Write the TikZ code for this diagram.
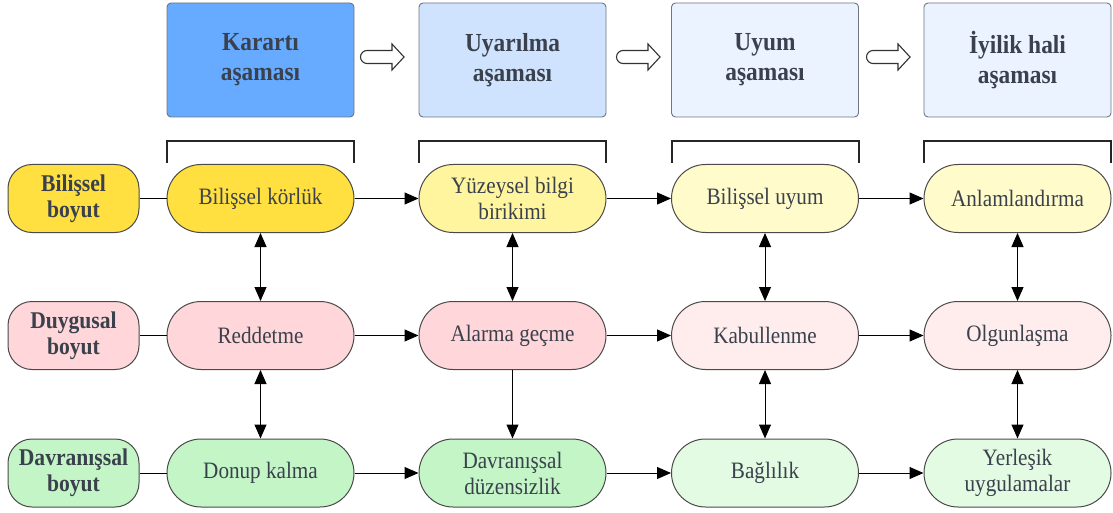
\documentclass[tikz,border=0pt]{standalone}
\usepackage{fontspec}
\setmainfont{Liberation Serif}[FakeStretch=0.9]
\usetikzlibrary{arrows.meta}

\definecolor{txt}{HTML}{3A414C}
\definecolor{edge}{HTML}{4A4A4A}
\definecolor{hedge}{HTML}{6E7580}
\definecolor{hA}{HTML}{66ABFF}
\definecolor{hB}{HTML}{CFE3FE}
\definecolor{hC}{HTML}{EAF3FF}
\definecolor{yA}{HTML}{FFE040}
\definecolor{yB}{HTML}{FFF59F}
\definecolor{yC}{HTML}{FFFBCA}
\definecolor{pA}{HTML}{FFD6D9}
\definecolor{pB}{HTML}{FFEDED}
\definecolor{gA}{HTML}{C3F5C7}
\definecolor{gB}{HTML}{E3FAE3}

\tikzset{
  header/.style={draw=hedge, line width=0.9pt, rounded corners=4pt,
    minimum width=187pt, minimum height=114pt, align=center, text=txt,
    font=\fontsize{26}{30}\selectfont\bfseries},
  stagebox/.style={draw=edge, line width=1pt, rounded corners=34pt,
    minimum width=187pt, minimum height=68pt, align=center, text=txt,
    inner sep=2pt, font=\fontsize{23.5}{26}\selectfont},
  dimbox/.style={draw=edge, line width=1pt, rounded corners=24pt,
    minimum width=131pt, minimum height=68pt, align=center, text=txt,
    inner sep=2pt, font=\fontsize{24}{26}\selectfont\bfseries},
  bracket/.style={draw=black!85, line width=1.8pt},
  hollow/.style={draw=black!80, line width=1.1pt, fill=white, line join=miter},
  link/.style={draw=black, line width=1pt},
  flow/.style={link, -{Triangle[length=14pt,width=12pt]}},
  both/.style={link, {Triangle[length=14pt,width=12pt]}-{Triangle[length=14pt,width=12pt]}},
}

\begin{document}
\begin{tikzpicture}[x=1pt, y=-1pt]
\useasboundingbox (0,0) rectangle (1113,513);

% stage headers
\node[header, fill=hA] (h1) at (260.5,60) {Karartı\\aşaması};
\node[header, fill=hB] (h2) at (512.5,60) {Uyarılma\\aşaması};
\node[header, fill=hC] (h3) at (765,60)   {Uyum\\aşaması};
\node[header, fill=hC] (h4) at (1017.5,60) {İyilik hali\\aşaması};

% hollow arrows between headers
\foreach \x in {363,619,869}{
  \draw[hollow] (\x+4,50.5) -- (\x+29,50.5) -- (\x+29,44) -- (\x+41,57)
    -- (\x+29,70) -- (\x+29,63.5) -- (\x+4,63.5)
    arc[start angle=270, end angle=90, radius=6.5pt] -- cycle;
}

% brackets over each column
\foreach \x in {167,419,672,924}{
  \draw[bracket] (\x,163) -- (\x,141) -- (\x+187,141) -- (\x+187,163);
}

% dimensions
\node[dimbox, fill=yA] (d1) at (73.5,198.5) {Bilişsel\\boyut};
\node[dimbox, fill=pA] (d2) at (73.5,335.5) {Duygusal\\boyut};
\node[dimbox, fill=gA] (d3) at (73.5,473)   {Davranışsal\\boyut};

% cognitive row
\node[stagebox, fill=yA] (c1) at (260.5,198.5) {Bilişsel körlük};
\node[stagebox, fill=yB] (c2) at (512.5,198.5) {Yüzeysel bilgi\\birikimi};
\node[stagebox, fill=yC] (c3) at (765,198.5)   {Bilişsel uyum};
\node[stagebox, fill=yC] (c4) at (1017.5,198.5) {Anlamlandırma};

% emotional row
\node[stagebox, fill=pA] (e1) at (260.5,335.5) {Reddetme};
\node[stagebox, fill=pA] (e2) at (512.5,335.5) {Alarma geçme};
\node[stagebox, fill=pB] (e3) at (765,335.5)   {Kabullenme};
\node[stagebox, fill=pB] (e4) at (1017.5,335.5) {Olgunlaşma};

% behavioural row
\node[stagebox, fill=gA] (b1) at (260.5,473) {Donup kalma};
\node[stagebox, fill=gA] (b2) at (512.5,473) {Davranışsal\\düzensizlik};
\node[stagebox, fill=gB] (b3) at (765,473)   {Bağlılık};
\node[stagebox, fill=gB] (b4) at (1017.5,473) {Yerleşik\\uygulamalar};

% dimension labels to their rows
\draw[link] (d1) -- (c1);
\draw[link] (d2) -- (e1);
\draw[link] (d3) -- (b1);

% progression along each row
\draw[flow] (c1) -- (c2);
\draw[flow] (c2) -- (c3);
\draw[flow] (c3) -- (c4);
\draw[flow] (e1) -- (e2);
\draw[flow] (e2) -- (e3);
\draw[flow] (e3) -- (e4);
\draw[flow] (b1) -- (b2);
\draw[flow] (b2) -- (b3);
\draw[flow] (b3) -- (b4);

% links between dimensions
\draw[both] (c1) -- (e1);
\draw[both] (c2) -- (e2);
\draw[both] (c3) -- (e3);
\draw[both] (c4) -- (e4);
\draw[both] (e1) -- (b1);
\draw[flow] (e2) -- (b2);
\draw[both] (e3) -- (b3);
\draw[both] (e4) -- (b4);
\end{tikzpicture}
\end{document}
